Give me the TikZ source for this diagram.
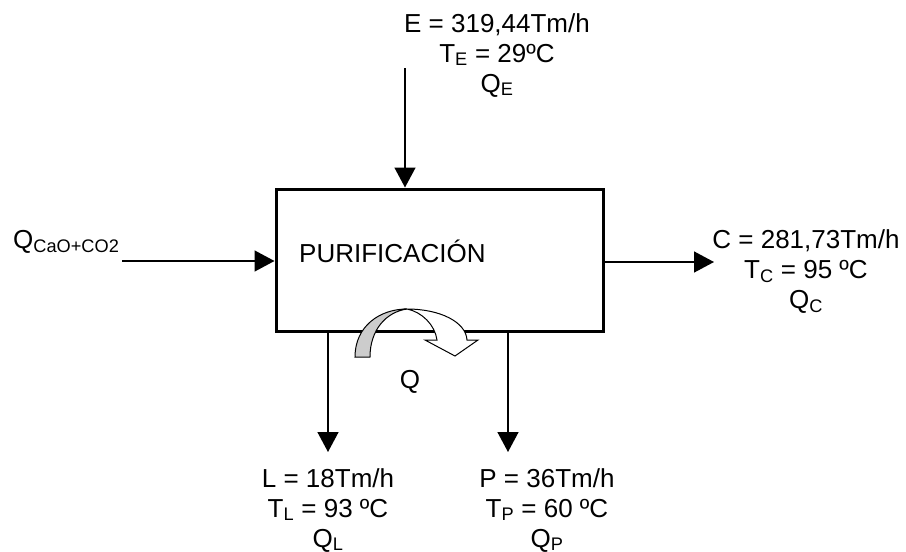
\documentclass[tikz,border=0pt]{standalone}
\usepackage{fontspec}
\setmainfont{Liberation Sans}
\usetikzlibrary{arrows.meta}
\begin{document}
\begin{tikzpicture}[x=1pt,y=-1pt,
  flow/.style={line width=1.5pt,-{Triangle[length=20pt,width=21pt]}},
  lbl/.style={align=center,font=\fontsize{26}{30}\selectfont,inner sep=0pt}]
  \useasboundingbox (0,0) rectangle (906,552);

  % bloque
  \node[draw,line width=3pt,minimum width=327pt,minimum height=142pt,inner sep=0pt] (pur) at (439.5,260) {};
  \node[lbl,anchor=base west] (purtxt) at (299,262) {PURIFICACIÓN};

  % corrientes
  \node[lbl,anchor=north] (E) at (497,13) {E = 319,44Tm/h\\T\textsubscript{E} = 29ºC\\Q\textsubscript{E}};
  \node[lbl,anchor=base west] (QCaO) at (13,248) {Q\textsubscript{CaO+CO2}};
  \node[lbl,anchor=north] (C) at (806,229) {C = 281,73Tm/h\\T\textsubscript{C} = 95 ºC\\Q\textsubscript{C}};
  \node[lbl,anchor=north] (L) at (328,468) {L = 18Tm/h\\T\textsubscript{L} = 93 ºC\\Q\textsubscript{L}};
  \node[lbl,anchor=north] (P) at (547,468) {P = 36Tm/h\\T\textsubscript{P} = 60 ºC\\Q\textsubscript{P}};
  \node[lbl] (Q) at (410,382) {Q};

  \coordinate (eIn) at (405,68);
  \coordinate (cIn) at (122,261);
  \coordinate (cOut) at (714,262);
  \coordinate (lOut) at (328,452);
  \coordinate (pOut) at (508,452);

  \draw[flow] (eIn) -- (eIn |- pur.north);
  \draw[flow] (cIn) -- (cIn -| pur.west);
  \draw[flow] (cOut -| pur.east) -- (cOut);
  \draw[flow] (lOut |- pur.south) -- (lOut);
  \draw[flow] (pOut |- pur.south) -- (pOut);

  % calor
  \draw[line width=1pt,fill=black!20] (355,357) .. controls (355,326) and (380,309) .. (407,309)
    .. controls (386,312) and (370,330) .. (370,357) -- cycle;
  \draw[line width=1pt,fill=white] (407,309) .. controls (440,309) and (466,322) .. (467,340)
    -- (478,340) -- (455,356) -- (425,340) -- (437,340)
    .. controls (435,325) and (422,312) .. (407,309) -- cycle;
\end{tikzpicture}
\end{document}
